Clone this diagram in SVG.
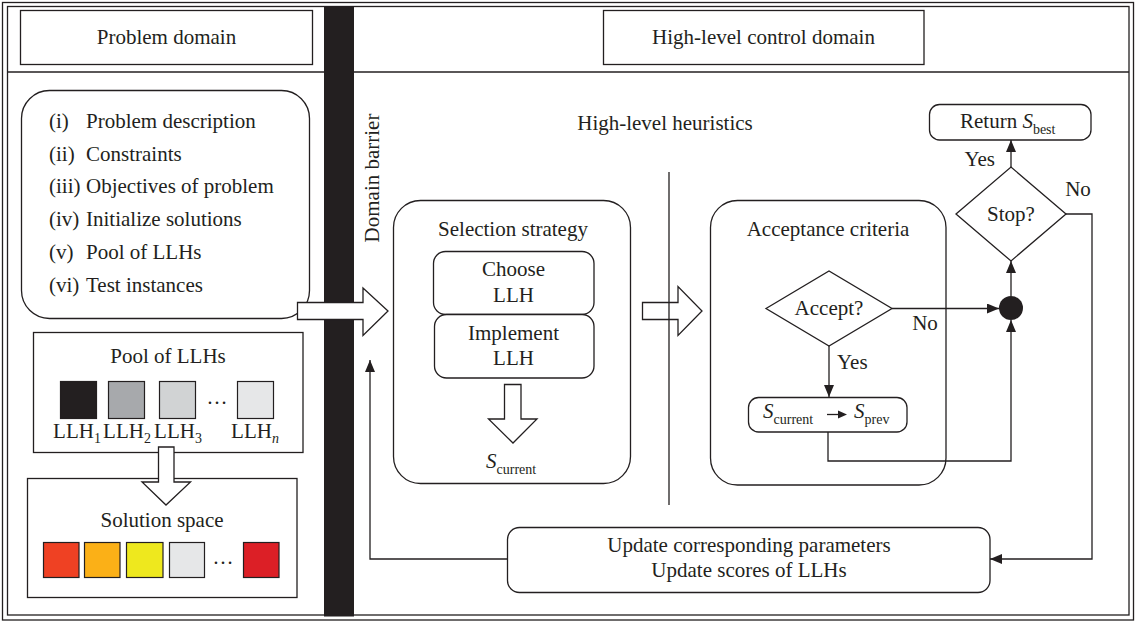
<svg xmlns="http://www.w3.org/2000/svg" width="1136" height="623" viewBox="0 0 1136 623">
<style>
.ln{fill:none;stroke:#231f20;stroke-width:1.3}
.bx{fill:#fff;stroke:#231f20;stroke-width:1.3}
.ha{fill:#fff;stroke:#231f20;stroke-width:1.3;stroke-linejoin:miter}
.t{font-family:"Liberation Serif","Times New Roman",serif;font-size:21px;fill:#231f20}
.c{text-anchor:middle}
.sub{font-size:14px}
.it{font-style:italic}
.sq{stroke:#231f20;stroke-width:1.2}
</style>
<defs>
<marker id="ah" viewBox="0 0 12 10" refX="12" refY="5" markerWidth="12" markerHeight="10" markerUnits="userSpaceOnUse" orient="auto">
<path d="M0,0 L12,5 L0,10 Z" fill="#231f20"/>
</marker>
</defs>
<rect x="0" y="0" width="1136" height="623" fill="#fff"/>
<g id="frame">
<rect x="2.5" y="2.5" width="1131" height="617.5" class="ln"/>
<rect x="7.5" y="6.5" width="1121.5" height="608.5" class="ln"/>
<line x1="7.5" y1="72" x2="1129" y2="72" class="ln"/>
</g>
<g id="problem-domain">
<rect x="20.5" y="10.5" width="292" height="54" class="bx"/>
<text x="166.5" y="44" class="t c">Problem domain</text>
</g>
<g id="control-domain">
<rect x="603.5" y="10.5" width="320.5" height="54" class="bx"/>
<text x="763.5" y="44" class="t c">High-level control domain</text>
</g>
<g id="problem-list">
<rect x="21.5" y="90.5" width="288" height="228" rx="28" class="bx"/>
<text class="t">
<tspan x="49" y="128">(i)</tspan><tspan x="86" y="128">Problem description</tspan>
<tspan x="49" y="161">(ii)</tspan><tspan x="86" y="161">Constraints</tspan>
<tspan x="49" y="193">(iii)</tspan><tspan x="86" y="193">Objectives of problem</tspan>
<tspan x="49" y="226">(iv)</tspan><tspan x="86" y="226">Initialize solutions</tspan>
<tspan x="49" y="259">(v)</tspan><tspan x="86" y="259">Pool of LLHs</tspan>
<tspan x="49" y="292">(vi)</tspan><tspan x="86" y="292">Test instances</tspan>
</text>
</g>
<g id="pool-of-llhs">
<rect x="33.5" y="332.5" width="269.5" height="120" class="bx"/>
<text x="168" y="363" class="t c">Pool of LLHs</text>
<rect x="60.5" y="381.5" width="36" height="37" fill="#231f20" class="sq"/>
<rect x="108.5" y="381.5" width="36" height="37" fill="#a7a9ac" class="sq"/>
<rect x="159.5" y="381.5" width="36" height="37" fill="#d1d3d4" class="sq"/>
<text x="217" y="404" class="t c">…</text>
<rect x="237.5" y="381.5" width="36" height="37" fill="#e6e7e8" class="sq"/>
<text y="438" class="t c"><tspan x="77">LLH<tspan class="sub" dy="5">1</tspan></tspan></text>
<text y="438" class="t c"><tspan x="127">LLH<tspan class="sub" dy="5">2</tspan></tspan></text>
<text y="438" class="t c"><tspan x="178">LLH<tspan class="sub" dy="5">3</tspan></tspan></text>
<text y="438" class="t c"><tspan x="255">LLH<tspan class="sub it" dy="5">n</tspan></tspan></text>
</g>
<g id="solution-space">
<rect x="27.5" y="478.5" width="269.5" height="119" class="bx"/>
<text x="162" y="527" class="t c">Solution space</text>
<rect x="43.5" y="542.5" width="35.5" height="35" fill="#ef4123" class="sq"/>
<rect x="84.5" y="542.5" width="35.5" height="35" fill="#fbb017" class="sq"/>
<rect x="126.5" y="542.5" width="36.5" height="35" fill="#eee81e" class="sq"/>
<rect x="169.5" y="542.5" width="35" height="35" fill="#e6e7e8" class="sq"/>
<text x="223" y="564" class="t c">…</text>
<rect x="243.5" y="542.5" width="35.5" height="35" fill="#dc1f26" class="sq"/>
</g>
<g id="domain-barrier">
<rect x="324" y="6.5" width="30" height="610" fill="#231f20"/>
<text transform="translate(379,178) rotate(-90)" x="0" y="0" class="t c">Domain barrier</text>
</g>
<g id="high-level-heuristics">
<text x="665" y="130" class="t c">High-level heuristics</text>
</g>
<g id="selection-strategy">
<rect x="393.5" y="200.5" width="237" height="283" rx="27" class="bx"/>
<text x="513" y="236" class="t c">Selection strategy</text>
<rect x="433.5" y="251.5" width="160.5" height="63" rx="12" class="bx"/>
<text x="513.5" y="276" class="t c">Choose</text>
<text x="513.5" y="302" class="t c">LLH</text>
<rect x="434.5" y="314.5" width="159.5" height="63.5" rx="12" class="bx"/>
<text x="513.5" y="340" class="t c">Implement</text>
<text x="513.5" y="365" class="t c">LLH</text>
<path d="M504.5,384.5 H521 V419 H537 L513,443 L488.5,419 H504.5 Z" class="ha"/>
<text y="468" class="t"><tspan x="486" class="it">S</tspan><tspan class="sub" dy="6">current</tspan></text>
</g>
<g id="acceptance-criteria">
<rect x="710.5" y="200.5" width="235.5" height="284.5" rx="27" class="bx"/>
<text x="828" y="236" class="t c">Acceptance criteria</text>
</g>
<g id="accept">
<path d="M766,308.5 L829,271 L892,308.5 L829,346 Z" class="bx"/>
<text x="829" y="315" class="t c">Accept?</text>
</g>
<g id="s-current-prev">
<rect x="748.5" y="397.5" width="158.5" height="34.5" rx="10" class="bx"/>
<text y="418" class="t"><tspan x="763" class="it">S</tspan><tspan class="sub" dy="6">current</tspan></text>
<line x1="827" y1="414.5" x2="840" y2="414.5" class="ln"/>
<path d="M838,410.5 L847,414.5 L838,418.5 Z" fill="#231f20"/>
<text y="418" class="t"><tspan x="854" class="it">S</tspan><tspan class="sub" dy="6">prev</tspan></text>
</g>
<g id="junction">
<circle cx="1011" cy="308" r="12" fill="#231f20"/>
</g>
<g id="stop">
<path d="M956,214 L1011,167 L1066,214 L1011,261 Z" class="bx"/>
<text x="1011" y="221" class="t c">Stop?</text>
</g>
<g id="return-best">
<rect x="929.5" y="104.5" width="161.5" height="35.5" rx="10" class="bx"/>
<text y="128" class="t"><tspan x="960">Return </tspan><tspan class="it">S</tspan><tspan class="sub" dy="6">best</tspan></text>
</g>
<g id="update">
<rect x="507.5" y="527.5" width="482.5" height="65" rx="12" class="bx"/>
<text x="749" y="552" class="t c">Update corresponding parameters</text>
<text x="749" y="577" class="t c">Update scores of LLHs</text>
</g>
<g id="connectors">
<path d="M297.5,302.5 H363 V288 L388,311 L363,335.5 V319.5 H297.5 Z" class="ha"/>
<path d="M642.5,302.5 H678 V286.5 L702,311 L678,335.5 V319.5 H642.5 Z" class="ha"/>
<line x1="669" y1="172" x2="669" y2="505" class="ln"/>
<path d="M158.5,447 H174 V482 H190.5 L166,505 L142,482 H158.5 Z" class="ha"/>
<path d="M892,308.5 H999" class="ln" marker-end="url(#ah)"/>
<path d="M829,346 V397" class="ln" marker-end="url(#ah)"/>
<path d="M828,432 V461 H1011 V320" class="ln" marker-end="url(#ah)"/>
<path d="M1011,296 V261" class="ln" marker-end="url(#ah)"/>
<path d="M1011,167 V140" class="ln" marker-end="url(#ah)"/>
<path d="M1066,214 H1092 V559 H990" class="ln" marker-end="url(#ah)"/>
<path d="M507.5,559 H370 V360" class="ln" marker-end="url(#ah)"/>
<text x="925" y="330" class="t c">No</text>
<text x="837" y="369" class="t">Yes</text>
<text x="995" y="166" class="t" text-anchor="end">Yes</text>
<text x="1078" y="196" class="t c">No</text>
</g>
</svg>
